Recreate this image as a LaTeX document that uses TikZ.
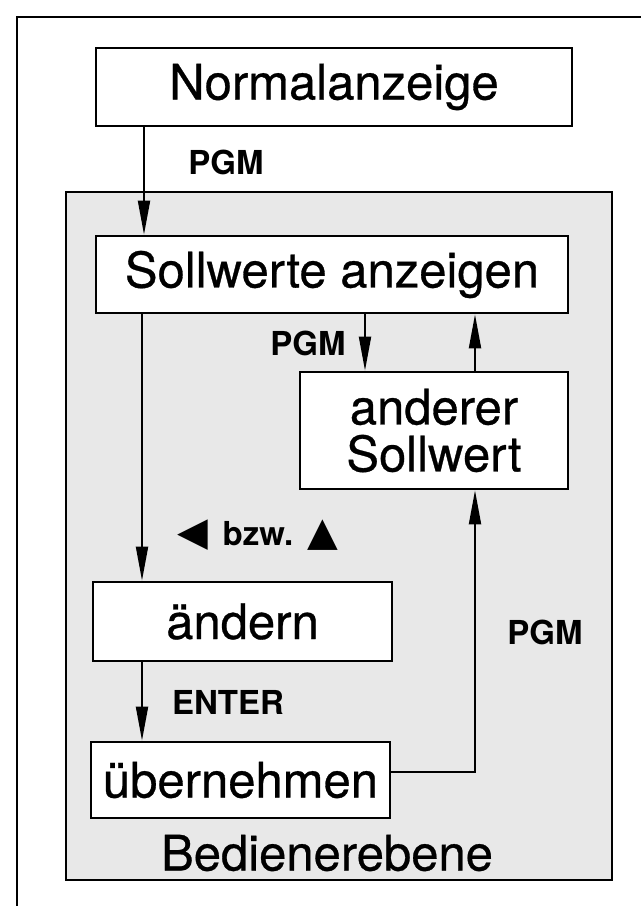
\documentclass[tikz,border=0pt]{standalone}
\usepackage{fontspec}
\setmainfont{TeX Gyre Heros}
\newfontfamily\kastenfont{TeX Gyre Heros}[FakeBold=0.6]
\newfontfamily\symfont{DejaVu Sans}
\usetikzlibrary{arrows.meta}

\begin{document}
\begin{tikzpicture}[x=0.5pt,y=-0.5pt,
    kasten/.style={draw,line width=1.4pt,fill=white,inner sep=0pt,
        font=\kastenfont\fontsize{24.5}{25}\selectfont},
    taste/.style={font=\fontsize{16.5}{18}\selectfont\bfseries,inner sep=0pt},
    pfeil/.style={line width=1pt,-{Triangle[length=17pt,width=6pt]}}]
    \useasboundingbox (0,0) rectangle (641,906);
    \clip (0,0) rectangle (641,906);
    % Rahmen und Bedienerebene
    \draw[line width=1pt] (17,17) rectangle (660,925);
    \draw[line width=1.2pt,fill=black!9] (66,192) rectangle (612,880);
    \node[font=\kastenfont\fontsize{24.5}{25}\selectfont,inner sep=0pt] (ebene) at (327,853) {Bedienerebene};
    % Kaesten
    \node[kasten,minimum width=238pt,minimum height=39pt] (norm) at (334,87) {Normalanzeige};
    \node[kasten,minimum width=236pt,minimum height=38.5pt] (soll) at (332,274.5) {Sollwerte anzeigen};
    \node[kasten,minimum width=134pt,minimum height=58.5pt,align=center,
        font=\kastenfont\fontsize{24.5}{23.5}\selectfont] (ander) at (434,430.5) {anderer\\Sollwert};
    \node[kasten,minimum width=149.5pt,minimum height=39.5pt] (aend) at (242.5,621.5) {ändern};
    \node[kasten,minimum width=149.5pt,minimum height=38pt] (uebern) at (240.5,780) {übernehmen};
    % Spalten der Pfeile
    \coordinate (xa) at (144,0);
    \coordinate (xl) at (142,0);
    \coordinate (xm) at (365,0);
    \coordinate (xr) at (475,0);
    \coordinate (yb) at (0,772);
    % Pfeile
    \draw[pfeil] (norm.south -| xa) -- (soll.north -| xa);
    \draw[pfeil] (soll.south -| xl) -- (aend.north -| xl);
    \draw[pfeil] (soll.south -| xm) -- (ander.north -| xm);
    \draw[pfeil] (ander.north -| xr) -- (soll.south -| xr);
    \draw[pfeil] (aend.south -| xl) -- (uebern.north -| xl);
    \draw[pfeil] (uebern.east |- yb) -| (ander.south -| xr);
    % Tasten
    \node[taste] (pgma) at (226,162) {PGM};
    \node[taste] (pgmb) at (308,343) {PGM};
    \node[taste] (pgmc) at (545,632) {PGM};
    \node[taste] (enter) at (228,702) {ENTER};
    \node[taste] (bzw) at (258,535) {{\fontsize{20}{20}\symfont ◀}\hspace{7pt}bzw.\hspace{7pt}{\fontsize{20}{20}\symfont ▲}};
\end{tikzpicture}
\end{document}
